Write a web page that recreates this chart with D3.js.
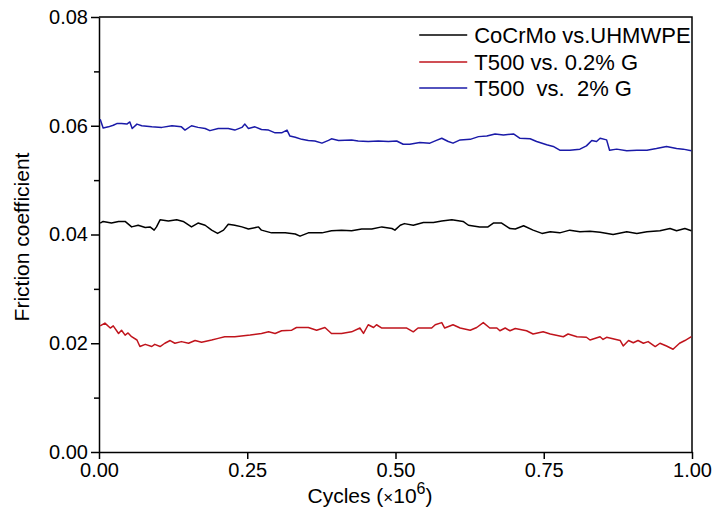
<!DOCTYPE html>
<html>
<head>
<meta charset="utf-8">
<script src="https://cdn.jsdelivr.net/npm/d3@7/dist/d3.min.js"></script>
<style>
  body { margin: 0; background: #fff; }
  svg { display: block; }
  text { font-family: "Liberation Sans", Arial, sans-serif; fill: #000; }
</style>
</head>
<body>
<svg id="chart" width="716" height="515"></svg>
<script>
// ---- data ----
const xTicks = [0, 0.25, 0.5, 0.75, 1.0];
const yTicks = [0, 0.02, 0.04, 0.06, 0.08];
const yMinorTicks = [0.01, 0.03, 0.05, 0.07];

const seriesNames = ["CoCrMo vs.UHMWPE", "T500 vs. 0.2% G", "T500  vs.  2% G"];
const seriesColors = ["#000000", "#c0141c", "#1a1aa8"];

const blackX = [0.002,0.007,0.021,0.033,0.044,0.055,0.066,0.078,0.086,0.093,0.097,0.103,0.117,0.131,0.142,0.156,0.167,0.179,0.190,0.200,0.210,0.218,0.229,0.241,0.252,0.269,0.274,0.291,0.314,0.331,0.339,0.353,0.376,0.392,0.409,0.426,0.443,0.460,0.477,0.494,0.499,0.508,0.515,0.530,0.547,0.564,0.578,0.595,0.614,0.623,0.642,0.656,0.665,0.679,0.693,0.702,0.716,0.732,0.747,0.761,0.777,0.794,0.811,0.828,0.845,0.867,0.890,0.907,0.924,0.946,0.963,0.974,0.988,0.999];
const blackY = [0.0421,0.0424,0.0421,0.0424,0.0424,0.0414,0.0417,0.0413,0.0414,0.0408,0.0414,0.0427,0.0425,0.0427,0.0424,0.0414,0.0421,0.0417,0.0408,0.0402,0.0408,0.0419,0.0417,0.0414,0.0410,0.0414,0.0408,0.0403,0.0403,0.0401,0.0397,0.0403,0.0403,0.0407,0.0408,0.0407,0.0410,0.0410,0.0414,0.0411,0.0408,0.0417,0.0420,0.0417,0.0422,0.0422,0.0425,0.0427,0.0424,0.0417,0.0414,0.0414,0.0421,0.0421,0.0411,0.0410,0.0416,0.0408,0.0402,0.0405,0.0403,0.0408,0.0405,0.0406,0.0404,0.0400,0.0405,0.0402,0.0405,0.0407,0.0411,0.0407,0.0411,0.0407];

const redX = [0.002,0.010,0.019,0.024,0.033,0.038,0.044,0.049,0.055,0.064,0.069,0.078,0.089,0.094,0.103,0.111,0.120,0.128,0.139,0.151,0.162,0.173,0.190,0.201,0.212,0.229,0.255,0.274,0.286,0.297,0.308,0.325,0.333,0.353,0.367,0.381,0.392,0.409,0.426,0.440,0.446,0.454,0.463,0.468,0.477,0.499,0.519,0.530,0.538,0.561,0.567,0.578,0.583,0.597,0.609,0.626,0.637,0.648,0.659,0.671,0.676,0.685,0.693,0.702,0.721,0.732,0.749,0.761,0.783,0.791,0.806,0.822,0.828,0.845,0.850,0.856,0.879,0.884,0.893,0.901,0.909,0.918,0.926,0.938,0.946,0.957,0.968,0.979,0.988,0.999];
const redY = [0.0232,0.0237,0.0228,0.0232,0.0218,0.0224,0.0215,0.0219,0.0212,0.0206,0.0194,0.0198,0.0194,0.0198,0.0194,0.0200,0.0205,0.0200,0.0203,0.0200,0.0205,0.0202,0.0206,0.0209,0.0212,0.0212,0.0215,0.0218,0.0221,0.0218,0.0223,0.0224,0.0229,0.0229,0.0224,0.0229,0.0218,0.0218,0.0221,0.0228,0.0218,0.0234,0.0229,0.0234,0.0228,0.0228,0.0228,0.0221,0.0228,0.0228,0.0234,0.0238,0.0228,0.0234,0.0228,0.0224,0.0229,0.0238,0.0228,0.0228,0.0223,0.0228,0.0223,0.0227,0.0223,0.0217,0.0221,0.0217,0.0212,0.0217,0.0212,0.0211,0.0206,0.0212,0.0207,0.0211,0.0205,0.0195,0.0205,0.0201,0.0205,0.0200,0.0203,0.0194,0.0200,0.0195,0.0189,0.0200,0.0205,0.0212];

const blueX = [0.002,0.007,0.016,0.024,0.030,0.038,0.047,0.052,0.056,0.064,0.072,0.089,0.106,0.123,0.139,0.145,0.156,0.167,0.179,0.187,0.201,0.218,0.229,0.241,0.246,0.252,0.263,0.274,0.286,0.297,0.308,0.317,0.322,0.331,0.342,0.353,0.364,0.376,0.387,0.392,0.404,0.426,0.437,0.454,0.471,0.488,0.502,0.513,0.524,0.541,0.558,0.569,0.578,0.589,0.597,0.609,0.626,0.640,0.654,0.668,0.682,0.699,0.710,0.727,0.738,0.755,0.766,0.777,0.794,0.811,0.822,0.831,0.839,0.845,0.856,0.861,0.873,0.890,0.907,0.924,0.940,0.957,0.974,0.985,0.999];
const blueY = [0.0612,0.0596,0.0598,0.0601,0.0604,0.0604,0.0603,0.0607,0.0595,0.0603,0.0600,0.0598,0.0597,0.0600,0.0598,0.0592,0.0600,0.0597,0.0595,0.0591,0.0595,0.0595,0.0592,0.0597,0.0603,0.0595,0.0598,0.0593,0.0592,0.0587,0.0587,0.0592,0.0581,0.0579,0.0575,0.0573,0.0572,0.0568,0.0573,0.0576,0.0573,0.0574,0.0572,0.0571,0.0572,0.0571,0.0572,0.0566,0.0566,0.0569,0.0568,0.0573,0.0577,0.0571,0.0568,0.0574,0.0575,0.0580,0.0581,0.0585,0.0583,0.0585,0.0577,0.0576,0.0571,0.0565,0.0562,0.0555,0.0555,0.0557,0.0563,0.0573,0.0571,0.0577,0.0574,0.0555,0.0557,0.0554,0.0555,0.0555,0.0558,0.0562,0.0558,0.0557,0.0554];

// ---- layout ----
const W = 716, H = 515;
const margin = { left: 99, right: 24, top: 17, bottom: 63 };
const iw = W - margin.left - margin.right;
const ih = H - margin.top - margin.bottom;

const svg = d3.select("#chart");
const g = svg.append("g").attr("transform", `translate(${margin.left},${margin.top})`);

const x = d3.scaleLinear().domain([0, 1]).range([0, iw]);
const y = d3.scaleLinear().domain([0, 0.08]).range([ih, 0]);

const FS = 20, FT = 21, FL = 22;

// frame (top and right lines)
g.append("path")
  .attr("d", `M0,0H${iw}V${ih}`)
  .attr("fill", "none").attr("stroke", "#000").attr("stroke-width", 1.5);

// x axis
g.append("g").attr("transform", `translate(0,${ih})`)
  .call(d3.axisBottom(x).tickValues(xTicks).tickFormat(d3.format(".2f")).tickSize(7).tickPadding(4).tickSizeOuter(0));
// y axis
g.append("g")
  .call(d3.axisLeft(y).tickValues(yTicks).tickFormat(d3.format(".2f")).tickSize(8).tickPadding(3).tickSizeOuter(0));
g.append("g")
  .call(d3.axisLeft(y).tickValues(yMinorTicks).tickFormat("").tickSize(5).tickSizeOuter(0))
  .select(".domain").remove();

g.selectAll(".domain, .tick line").attr("stroke", "#000").attr("stroke-width", 1.5);
g.selectAll(".tick text").style("font-size", FS + "px").style("font-family", '"Liberation Sans", Arial, sans-serif').attr("fill", "#000");

// lines
const line = d3.line().x(d => x(d[0])).y(d => y(d[1]));
const allSeries = [
  d3.zip(blackX, blackY),
  d3.zip(redX, redY),
  d3.zip(blueX, blueY)
];
allSeries.forEach((s, i) => {
  g.append("path").datum(s)
    .attr("d", line)
    .attr("fill", "none")
    .attr("stroke", seriesColors[i])
    .attr("stroke-width", 1.5)
    .attr("stroke-linejoin", "round");
});

// axis titles
const xt = svg.append("text")
  .attr("x", 370).attr("y", 503)
  .attr("text-anchor", "middle").style("font-size", FT + "px");
xt.append("tspan").text("Cycles (");
xt.append("tspan").text("×").style("font-size", (FT - 4) + "px");
xt.append("tspan").text("10");
xt.append("tspan").text("6").attr("dy", -9).style("font-size", (FT - 5) + "px");
xt.append("tspan").text(")").attr("dy", 9);

svg.append("text")
  .attr("transform", `translate(29,237) rotate(-90)`)
  .attr("text-anchor", "middle").style("font-size", FT + "px")
  .text("Friction coefficient");

// legend
const leg = g.append("g").attr("transform", `translate(${x(0.54)},0)`);
const rowY = [18, 45, 71];
seriesNames.forEach((n, i) => {
  leg.append("line").attr("x1", 0).attr("x2", 48)
    .attr("y1", rowY[i]).attr("y2", rowY[i])
    .attr("stroke", seriesColors[i]).attr("stroke-width", 1.5);
  leg.append("text").attr("x", 55).attr("y", rowY[i]).attr("dy", "0.35em")
    .style("font-size", FL + "px").style("white-space", "pre").text(n);
});
</script>
</body>
</html>
